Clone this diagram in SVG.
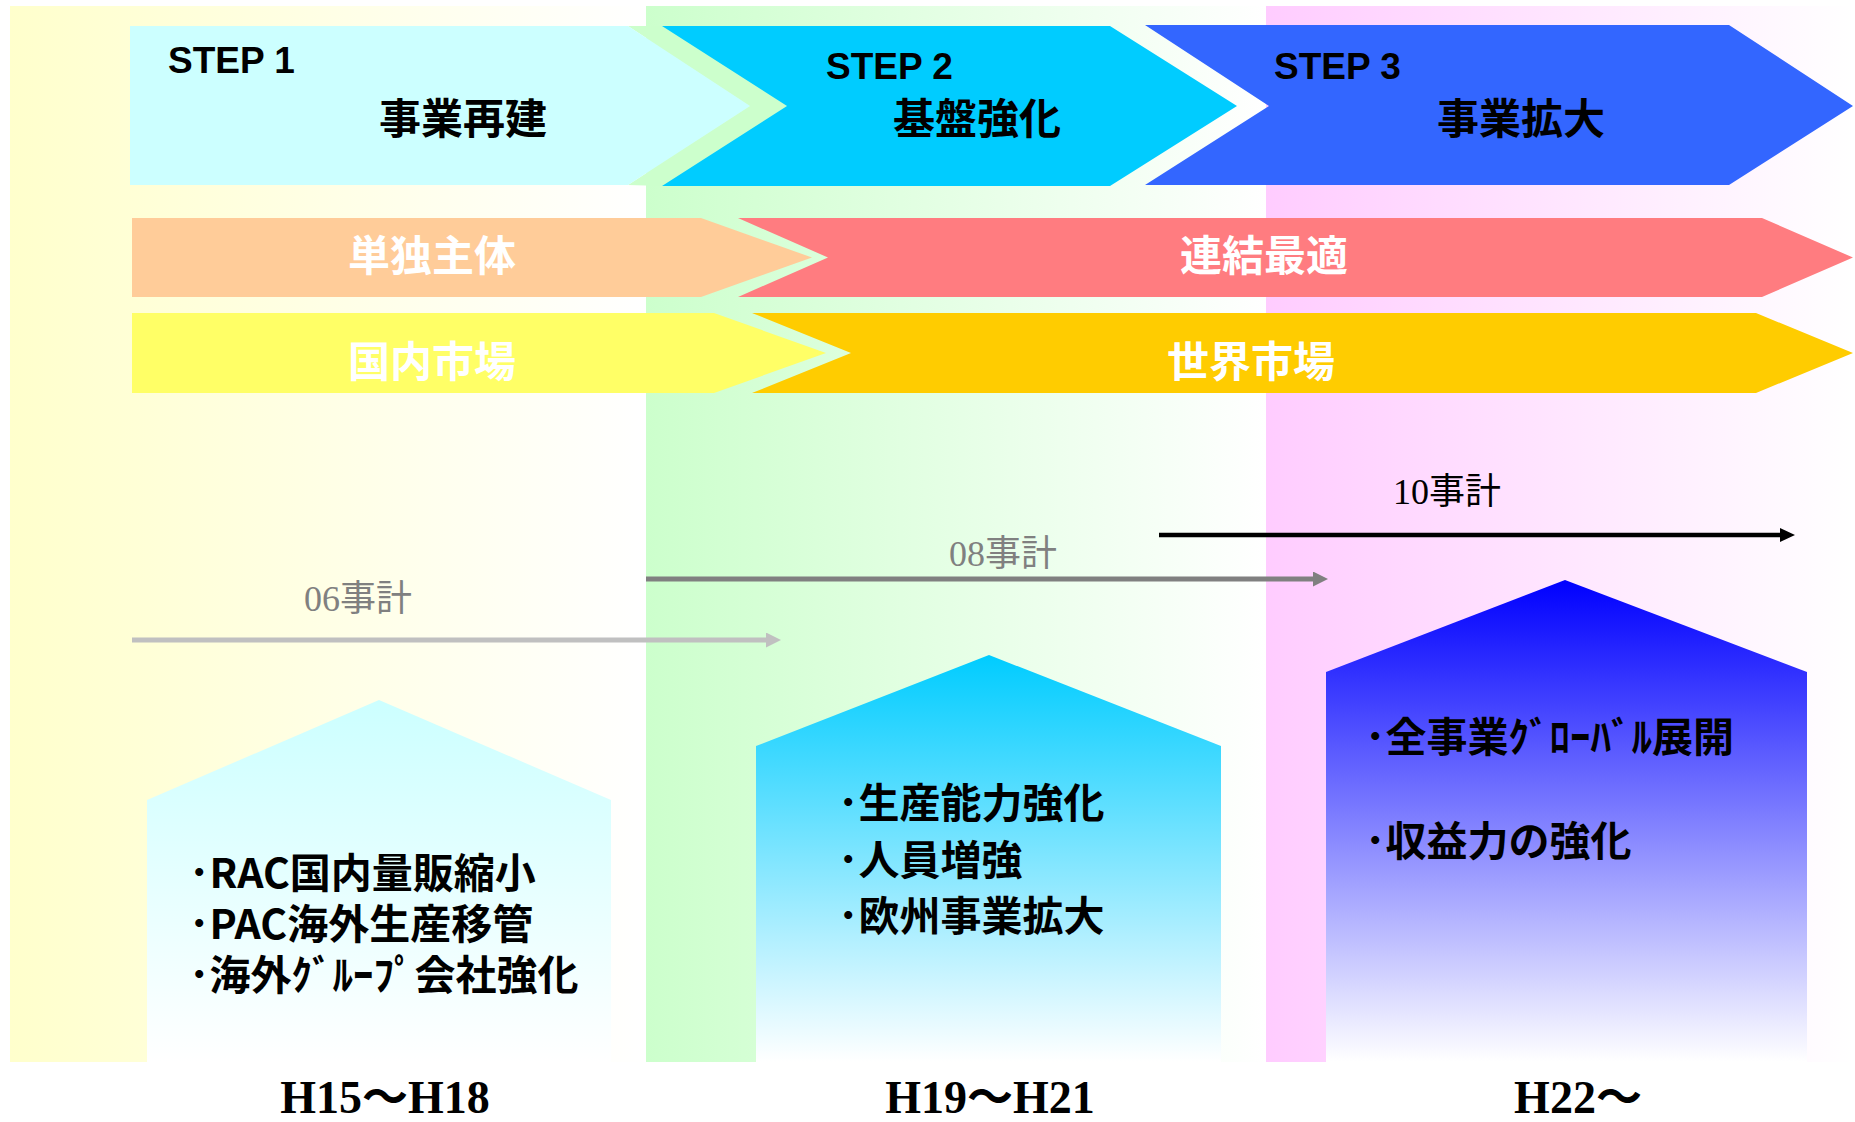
<svg xmlns="http://www.w3.org/2000/svg" width="1855" height="1122" viewBox="0 0 1855 1122">
<defs>
<linearGradient id="gY" x1="0" y1="0" x2="1" y2="0"><stop offset="0" stop-color="#FFFFCC"/><stop offset="1" stop-color="#FFFFFF"/></linearGradient>
<linearGradient id="gG" x1="0" y1="0" x2="1" y2="0"><stop offset="0" stop-color="#CCFFCC"/><stop offset="1" stop-color="#FFFFFF"/></linearGradient>
<linearGradient id="gP" x1="0" y1="0" x2="1" y2="0"><stop offset="0" stop-color="#FFCCFF"/><stop offset="1" stop-color="#FFFFFF"/></linearGradient>
<linearGradient id="h1" x1="0" y1="0" x2="0" y2="1"><stop offset="0" stop-color="#CCFFFF"/><stop offset="1" stop-color="#FFFFFF"/></linearGradient>
<linearGradient id="h2" x1="0" y1="0" x2="0" y2="1"><stop offset="0" stop-color="#00CCFF"/><stop offset="1" stop-color="#FFFFFF"/></linearGradient>
<linearGradient id="h3" x1="0" y1="0" x2="0" y2="1"><stop offset="0" stop-color="#0000FF"/><stop offset="1" stop-color="#FFFFFF"/></linearGradient>
<marker id="aL" markerUnits="userSpaceOnUse" markerWidth="15" markerHeight="15" refX="0" refY="7.5" orient="auto"><path d="M0,0 L15,7.5 L0,15 z" fill="#C0C0C0"/></marker>
<marker id="aM" markerUnits="userSpaceOnUse" markerWidth="15" markerHeight="15" refX="0" refY="7.5" orient="auto"><path d="M0,0 L15,7.5 L0,15 z" fill="#808080"/></marker>
<marker id="aB" markerUnits="userSpaceOnUse" markerWidth="15" markerHeight="15" refX="0" refY="7" orient="auto"><path d="M0,0 L15,7 L0,14 z" fill="#000000"/></marker>
</defs>
<style>
.step{font-family:"Liberation Sans","Noto Sans CJK JP",sans-serif;font-size:37px;font-weight:bold;fill:#000}
.jh{font-family:"Noto Sans CJK JP",sans-serif;font-size:42px;font-weight:bold;text-anchor:middle}
.jt{font-family:"Noto Sans CJK JP",sans-serif;font-size:41px;font-weight:bold;fill:#000}
.lab{font-family:"Liberation Serif","Noto Sans CJK JP",serif;font-size:36px}
.per{font-family:"Liberation Serif","Noto Sans CJK JP",serif;font-size:46px;font-weight:bold;text-anchor:middle;fill:#000}
</style>
<rect width="1855" height="1122" fill="#FFFFFF"/>
<g id="bands">
<rect x="10" y="6" width="636" height="1056" fill="url(#gY)"/>
<rect x="646" y="6" width="620" height="1056" fill="url(#gG)"/>
<rect x="1266" y="6" width="587" height="1056" fill="url(#gP)"/>
</g>
<g id="step1">
<polygon points="628,26 662,26 787,106 662,186 628,185 750,106" fill="#CCFFCC"/>
<polygon points="130,26 628,26 750,106 628,185 130,185" fill="#CCFFFF"/>
<text class="step" x="168" y="73">STEP 1</text>
<text class="jh" x="463" y="134" fill="#000">事業再建</text>
</g>
<g id="step2">
<polygon points="662,26 1110,26 1237,106 1110,186 662,186 787,106" fill="#00CCFF"/>
<text class="step" x="826" y="79">STEP 2</text>
<text class="jh" x="977" y="134" fill="#000">基盤強化</text>
</g>
<g id="step3">
<polygon points="1145,25 1729,25 1853,106 1729,185 1145,185 1269,106" fill="#3366FF"/>
<text class="step" x="1274" y="79">STEP 3</text>
<text class="jh" x="1521" y="134" fill="#000">事業拡大</text>
</g>
<g id="tandoku">
<polygon points="132,218 701,218 812,257.5 701,297 132,297" fill="#FFCC99"/>
<text class="jh" x="432" y="271" fill="#FFF">単独主体</text>
</g>
<g id="renketsu">
<polygon points="738,218 1762,218 1853,257.5 1762,297 738,297 828,257.5" fill="#FF7C80"/>
<text class="jh" x="1264" y="271" fill="#FFF">連結最適</text>
</g>
<g id="kokunai">
<polygon points="132,313 714,313 826,353 714,393 132,393" fill="#FFFF66"/>
<text class="jh" x="432" y="377" fill="#FFF">国内市場</text>
</g>
<g id="sekai">
<polygon points="752,313 1756,313 1853,353 1756,393 752,393 851,353" fill="#FFCC00"/>
<text class="jh" x="1251" y="377" fill="#FFF">世界市場</text>
</g>
<g id="connectors">
<line x1="132" y1="640" x2="766" y2="640" stroke="#C0C0C0" stroke-width="5" marker-end="url(#aL)"/>
<line x1="646" y1="579" x2="1313" y2="579" stroke="#808080" stroke-width="5" marker-end="url(#aM)"/>
<line x1="1159" y1="535" x2="1780" y2="535" stroke="#000000" stroke-width="4.5" marker-end="url(#aB)"/>
<text class="lab" x="304" y="611" fill="#808080">06事計</text>
<text class="lab" x="949" y="566" fill="#808080">08事計</text>
<text class="lab" x="1393" y="504" fill="#000">10事計</text>
</g>
<g id="house1">
<polygon points="379,700 611,800 611,1062 147,1062 147,800" fill="url(#h1)"/>
<text class="jt" x="189" y="888">･RAC国内量販縮小</text>
<text class="jt" x="189" y="939">･PAC海外生産移管</text>
<text class="jt" x="189" y="990">･海外ｸﾞﾙｰﾌﾟ会社強化</text>
</g>
<g id="house2">
<polygon points="989,655 1221,746 1221,1062 756,1062 756,746" fill="url(#h2)"/>
<text class="jt" x="838" y="818">･生産能力強化</text>
<text class="jt" x="838" y="875">･人員増強</text>
<text class="jt" x="838" y="931">･欧州事業拡大</text>
</g>
<g id="house3">
<polygon points="1565,580 1807,672 1807,1062 1326,1062 1326,672" fill="url(#h3)"/>
<text class="jt" x="1365" y="752">･全事業ｸﾞﾛｰﾊﾞﾙ展開</text>
<text class="jt" x="1365" y="856">･収益力の強化</text>
</g>
<g id="periods">
<text class="per" x="385" y="1113">H15～H18</text>
<text class="per" x="990" y="1113">H19～H21</text>
<text class="per" x="1578" y="1113">H22～</text>
</g>
</svg>
